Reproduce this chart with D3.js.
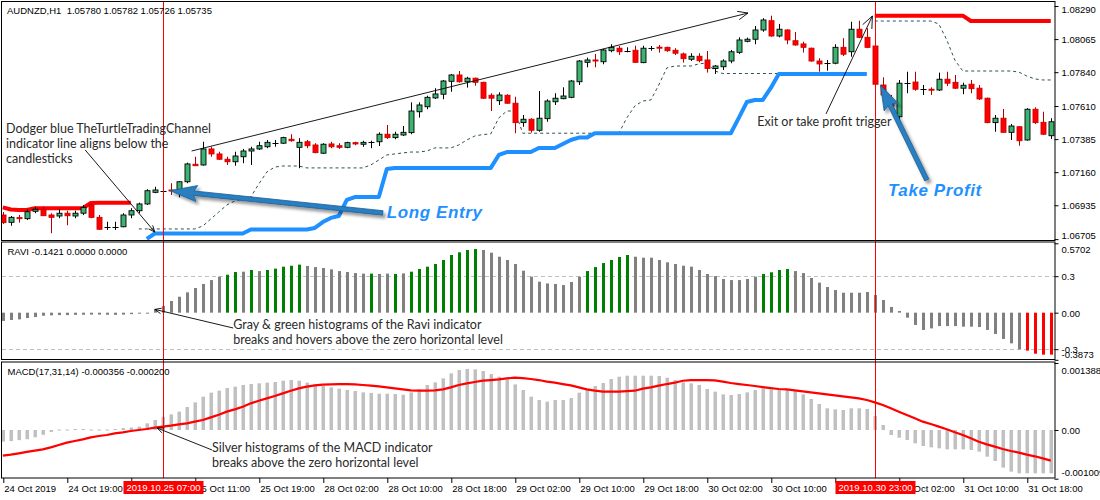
<!DOCTYPE html>
<html><head><meta charset="utf-8">
<script src="https://cdn.jsdelivr.net/npm/d3@7"></script>
<style>
body{margin:0;background:#fff}
svg{display:block}
.mt{font-family:"Liberation Sans",Arial,sans-serif;font-size:9.5px;fill:#000}
.note{font-family:Lato,"Open Sans",sans-serif;font-size:12.5px;fill:#2a2a2a}
.big{font-family:"Liberation Sans",Arial,sans-serif;font-weight:bold;font-style:italic;font-size:17px;fill:#1E90FF;letter-spacing:0.6px}
</style>
</head><body>
<svg id="c" width="1100" height="500"></svg>
<script>
// ---------------- DATA ----------------
const chartTitle = "AUDNZD,H1  1.05780 1.05782 1.05726 1.05735";
const raviTitle = "RAVI -0.1421 0.0000 0.0000";
const macdTitle = "MACD(17,31,14) -0.000356 -0.000200";

const opens = [1.06869,1.06819,1.06851,1.06844,1.06894,1.06908,1.06869,1.06862,1.06881,1.06862,
 1.06881,1.06937,1.06853,1.06789,1.06789,1.06789,1.06869,1.06898,1.06944,1.07023,
 1.07034,1.07039,1.07039,1.07095,1.07214,1.07209,1.07318,1.07284,1.07248,1.07231,
 1.07265,1.07304,1.07318,1.07333,1.07361,1.07357,1.07384,1.07329,1.07367,1.07345,
 1.07289,1.07352,1.07340,1.07329,1.07361,1.07350,1.07363,1.07367,1.07418,1.07395,
 1.07413,1.07429,1.07571,1.07605,1.07665,1.07690,1.07778,1.07821,1.07775,1.07799,
 1.07771,1.07683,1.07646,1.07683,1.07629,1.07497,1.07520,1.07445,1.07524,1.07639,
 1.07660,1.07669,1.07775,1.07907,1.07923,1.07911,1.07986,1.08003,1.07986,1.07989,
 1.07905,1.08007,1.08010,1.08009,1.07989,1.07964,1.07928,1.07948,1.07923,1.07865,
 1.07877,1.07916,1.07975,1.08050,1.08064,1.08127,1.08190,1.08086,1.08127,1.08054,
 1.08032,1.08003,1.07916,1.07901,1.07901,1.08009,1.07979,1.08132,1.08077,1.08018,
 1.07753,1.07629,1.07537,1.07769,1.07773,1.07724,1.07724,1.07719,1.07792,1.07771,
 1.07731,1.07758,1.07731,1.07663,1.07497,1.07527,1.07431,1.07469,1.07379,1.07588,
 1.07499,1.07408];
const highs = [1.06889,1.06862,1.06869,1.06908,1.06925,1.06925,1.06881,1.06908,1.06898,1.06898,
 1.06937,1.06949,1.06869,1.06823,1.06823,1.06881,1.06915,1.06953,1.07044,1.07061,
 1.07042,1.07085,1.07100,1.07225,1.07265,1.07367,1.07333,1.07299,1.07265,1.07299,
 1.07318,1.07333,1.07367,1.07379,1.07379,1.07401,1.07418,1.07391,1.07379,1.07357,
 1.07357,1.07367,1.07357,1.07367,1.07367,1.07374,1.07374,1.07431,1.07481,1.07435,
 1.07474,1.07635,1.07635,1.07680,1.07731,1.07787,1.07828,1.07848,1.07809,1.07803,
 1.07775,1.07697,1.07703,1.07690,1.07673,1.07549,1.07527,1.07712,1.07656,1.07697,
 1.07737,1.07787,1.07923,1.07939,1.07964,1.07998,1.08030,1.08018,1.08009,1.08020,
 1.08020,1.08018,1.08025,1.08013,1.08003,1.07973,1.07969,1.07969,1.07984,1.07889,
 1.07928,1.07991,1.08077,1.08075,1.08154,1.08207,1.08224,1.08168,1.08132,1.08113,
 1.08047,1.08007,1.07935,1.07923,1.08030,1.08071,1.08183,1.08190,1.08139,1.08020,
 1.07805,1.07685,1.07787,1.07843,1.07843,1.07753,1.07737,1.07837,1.07843,1.07821,
 1.07769,1.07787,1.07753,1.07667,1.07549,1.07590,1.07488,1.07474,1.07595,1.07601,
 1.07571,1.07527];
const lows = [1.06808,1.06796,1.06817,1.06835,1.06881,1.06862,1.06745,1.06847,1.06799,1.06847,
 1.06869,1.06847,1.06767,1.06767,1.06767,1.06785,1.06847,1.06881,1.06937,1.07017,
 1.07029,1.07005,1.06989,1.07085,1.07202,1.07204,1.07265,1.07243,1.07209,1.07204,
 1.07221,1.07209,1.07311,1.07323,1.07333,1.07352,1.07367,1.07187,1.07323,1.07289,
 1.07284,1.07323,1.07318,1.07323,1.07343,1.07333,1.07323,1.07338,1.07386,1.07384,
 1.07406,1.07418,1.07531,1.07588,1.07658,1.07656,1.07707,1.07769,1.07735,1.07748,
 1.07658,1.07576,1.07617,1.07624,1.07425,1.07469,1.07429,1.07435,1.07503,1.07617,
 1.07656,1.07663,1.07753,1.07873,1.07873,1.07894,1.07975,1.07957,1.07975,1.07905,
 1.07901,1.07986,1.07973,1.07979,1.07957,1.07905,1.07916,1.07907,1.07837,1.07828,
 1.07855,1.07901,1.07964,1.08043,1.08030,1.08115,1.08081,1.08077,1.08030,1.08020,
 1.07973,1.07911,1.07843,1.07850,1.07894,1.07950,1.07945,1.08071,1.08003,1.07753,
 1.07651,1.07583,1.07503,1.07697,1.07714,1.07685,1.07685,1.07712,1.07746,1.07726,
 1.07690,1.07697,1.07651,1.07493,1.07435,1.07429,1.07379,1.07340,1.07374,1.07488,
 1.07413,1.07386];
const closes = [1.06817,1.06853,1.06844,1.06891,1.06908,1.06864,1.06853,1.06881,1.06864,1.06881,
 1.06921,1.06853,1.06772,1.06789,1.06789,1.06869,1.06898,1.06944,1.07034,1.07039,
 1.07034,1.07034,1.07095,1.07216,1.07204,1.07318,1.07284,1.07248,1.07231,1.07270,
 1.07304,1.07318,1.07340,1.07363,1.07361,1.07395,1.07374,1.07363,1.07340,1.07293,
 1.07350,1.07333,1.07329,1.07361,1.07352,1.07363,1.07363,1.07418,1.07395,1.07418,
 1.07431,1.07576,1.07617,1.07669,1.07692,1.07780,1.07821,1.07775,1.07799,1.07771,
 1.07663,1.07663,1.07685,1.07629,1.07497,1.07520,1.07445,1.07527,1.07644,1.07663,
 1.07678,1.07780,1.07916,1.07923,1.07916,1.07991,1.08009,1.07979,1.07986,1.07907,
 1.08003,1.08007,1.08008,1.07986,1.07969,1.07932,1.07948,1.07918,1.07865,1.07882,
 1.07916,1.07979,1.08059,1.08064,1.08127,1.08195,1.08086,1.08132,1.08059,1.08025,
 1.08009,1.07916,1.07896,1.07901,1.08009,1.07962,1.08132,1.08077,1.08009,1.07758,
 1.07685,1.07610,1.07765,1.07769,1.07724,1.07724,1.07719,1.07792,1.07765,1.07731,
 1.07751,1.07728,1.07658,1.07497,1.07527,1.07431,1.07474,1.07374,1.07588,1.07497,
 1.07418,1.07503];

// Turtle Trading Channel buffers (first bar index + values)
const upperBandLeftStart = 0;
const upperBandLeft = [1.06921,1.06906,1.06903,1.06903,1.06915,1.06915,1.06915,1.06915,1.06915,1.06915,
 1.06915,1.06951,1.06953,1.06953,1.06953,1.06953,1.06953];
const upperBandRightStart = 109;
const upperBandRight = [1.08224,1.08224,1.08224,1.08224,1.08224,1.08224,1.08224,1.08224,1.08224,1.08224,
 1.08224,1.08224,1.08188,1.08188,1.08188,1.08188,1.08188,1.08188,1.08188,1.08188,1.08188,1.08188,1.08188];
const lowerBandStart = 18;
const lowerBand = [1.06706,1.06743,1.06743,1.06743,1.06743,1.06743,1.06743,1.06743,1.06743,1.06743,
 1.06743,1.06743,1.06743,1.06770,1.06770,1.06770,1.06770,1.06770,1.06770,1.06770,
 1.06770,1.06781,1.06821,1.06849,1.06862,1.06971,1.06991,1.06991,1.06991,1.06991,
 1.07182,1.07189,1.07189,1.07189,1.07189,1.07189,1.07189,1.07189,1.07189,1.07189,
 1.07189,1.07189,1.07189,1.07189,1.07277,1.07297,1.07297,1.07297,1.07297,1.07325,
 1.07325,1.07325,1.07352,1.07379,1.07395,1.07395,1.07425,1.07425,1.07425,1.07425,
 1.07425,1.07425,1.07425,1.07425,1.07425,1.07425,1.07425,1.07425,1.07425,1.07425,
 1.07425,1.07425,1.07425,1.07425,1.07529,1.07637,1.07651,1.07651,1.07733,1.07828,
 1.07828,1.07828,1.07828,1.07828,1.07828,1.07828,1.07828,1.07828,1.07828,1.07828,1.07828];
const exitLongStart = 17;
const exitLong = [1.06774,1.06774,1.06774,1.06774,1.06774,1.06774,1.06774,1.06774,1.06794,1.06842,
 1.06889,1.06937,1.06964,1.06978,1.06991,1.07080,1.07161,1.07195,1.07202,1.07202,
 1.07202,1.07189,1.07189,1.07189,1.07189,1.07189,1.07189,1.07189,1.07189,1.07209,
 1.07243,1.07277,1.07284,1.07291,1.07297,1.07297,1.07304,1.07325,1.07325,1.07325,
 1.07345,1.07379,1.07406,1.07416,1.07420,1.07529,1.07576,1.07576,1.07425,1.07425,
 1.07425,1.07425,1.07425,1.07425,1.07425,1.07425,1.07425,1.07425,1.07425,1.07425,
 1.07425,1.07529,1.07610,1.07644,1.07651,1.07753,1.07869,1.07882,1.07882,1.07882,
 1.07896,1.07903,1.07848,1.07831,1.07831,1.07831,1.07831,1.07831,1.07831,1.07831,
 1.07831,1.07831,1.07831,1.07831,1.07831,1.07831,1.07831,1.07831,1.07831,1.07831,
 1.07831,1.07831];
const exitShortStart = 109;
const exitShort = [1.08188,1.08188,1.08188,1.08188,1.08188,1.08188,1.08188,1.08188,1.08168,1.08059,
 1.07923,1.07848,1.07848,1.07848,1.07848,1.07848,1.07848,1.07848,1.07841,1.07814,
 1.07794,1.07787,1.07787];

const raviValues = [-0.068,-0.060,-0.055,-0.044,-0.036,-0.025,-0.022,-0.020,-0.020,-0.018,
 -0.017,-0.016,-0.016,-0.017,-0.018,-0.016,-0.012,-0.008,-0.004,0.027,
 0.055,0.096,0.131,0.167,0.203,0.236,0.268,0.296,0.312,0.334,
 0.337,0.351,0.342,0.351,0.362,0.378,0.386,0.395,0.384,0.375,
 0.367,0.356,0.342,0.334,0.326,0.321,0.321,0.318,0.321,0.318,
 0.323,0.337,0.359,0.378,0.400,0.433,0.474,0.496,0.515,0.523,
 0.515,0.493,0.460,0.433,0.400,0.345,0.296,0.255,0.240,0.236,
 0.227,0.252,0.296,0.342,0.375,0.408,0.433,0.458,0.474,0.460,
 0.452,0.452,0.433,0.414,0.400,0.386,0.378,0.351,0.318,0.301,
 0.277,0.268,0.268,0.277,0.296,0.318,0.332,0.351,0.359,0.342,
 0.326,0.285,0.247,0.211,0.186,0.164,0.164,0.164,0.170,0.145,
 0.104,0.047,0.014,-0.041,-0.101,-0.142,-0.129,-0.110,-0.110,-0.110,
 -0.115,-0.115,-0.118,-0.142,-0.175,-0.216,-0.252,-0.301,-0.312,-0.337,
 -0.345,-0.345];
const raviGreenBars = [28,29,31,33,34,35,36,37,46,49,51,52,53,54,55,56,57,58,59,73,74,75,76,77,78,95,96,97,98];
const raviRedBars = [128,129,130,131];
const raviLevels = [0.3,-0.3];

const macdHist = [-0.00024,-0.00023,-0.00021,-0.00019,-0.00015,-0.00010,-0.00004,0.00001,0.00001,0.00002,
 0.00002,0.00001,0.00001,0.00001,0.00002,0.00004,0.00005,0.00007,0.000138,0.000207,
 0.000276,0.000324,0.00038,0.000476,0.000573,0.00069,0.000773,0.000814,0.000869,0.000897,
 0.000932,0.000952,0.000966,0.00098,0.000994,0.001021,0.001035,0.001021,0.00098,0.000945,
 0.000911,0.000883,0.000856,0.000828,0.000807,0.00078,0.000766,0.000752,0.000752,0.000745,
 0.000731,0.00078,0.000842,0.000932,0.000987,0.00107,0.001173,0.001242,0.001263,0.001256,
 0.001221,0.001159,0.001104,0.001049,0.000945,0.000828,0.00069,0.000621,0.000587,0.000621,
 0.000621,0.000662,0.000773,0.000842,0.000911,0.000973,0.001056,0.001104,0.001125,0.001125,
 0.001125,0.001125,0.001118,0.001083,0.001035,0.000987,0.000966,0.000932,0.000849,0.000794,
 0.000738,0.000725,0.000745,0.00078,0.000828,0.000863,0.000842,0.000842,0.000842,0.000814,
 0.000738,0.000642,0.000538,0.000449,0.000428,0.000414,0.000449,0.000449,0.000435,0.00029,
 0.000104,-0.000104,-0.000159,-0.000207,-0.000276,-0.000331,-0.000359,-0.00038,-0.0004,-0.0004,
 -0.0004,-0.000414,-0.000449,-0.000552,-0.000642,-0.00078,-0.000863,-0.000897,-0.000897,-0.000897,
 -0.000897,-0.000897];
const macdSignal = [-0.000531,-0.000511,-0.000483,-0.000455,-0.000428,-0.0004,-0.000359,-0.00031,-0.000262,-0.000228,
 -0.000193,-0.000152,-0.000124,-0.000104,-0.000069,-0.000048,-0.000021,0,0.000021,0.000048,
 0.000069,0.00009,0.000117,0.000138,0.000173,0.000207,0.000262,0.000317,0.00038,0.000428,
 0.000483,0.000552,0.000607,0.000656,0.000704,0.000759,0.000814,0.000863,0.000897,0.000925,
 0.000938,0.000945,0.000952,0.000952,0.000945,0.000932,0.000918,0.000904,0.000883,0.000863,
 0.000842,0.000821,0.000814,0.000814,0.000821,0.000842,0.000883,0.000932,0.000966,0.000994,
 0.001021,0.001035,0.001049,0.00107,0.001083,0.001076,0.001056,0.001035,0.001001,0.00098,
 0.000952,0.000925,0.000883,0.000842,0.000814,0.000794,0.000794,0.000794,0.000807,0.000814,
 0.000856,0.000883,0.000918,0.000952,0.00098,0.001021,0.001035,0.001035,0.001035,0.001028,
 0.001001,0.000973,0.000952,0.000932,0.000911,0.00089,0.000869,0.000849,0.000842,0.000821,
 0.0008,0.00078,0.000759,0.000738,0.000718,0.000697,0.000676,0.000656,0.000621,0.000573,
 0.000518,0.000449,0.00038,0.000311,0.000242,0.000173,0.000124,0.000069,0.000014,-0.000048,
 -0.000104,-0.000173,-0.000242,-0.000297,-0.000345,-0.000393,-0.000435,-0.000469,-0.000511,-0.000545,
 -0.000587,-0.000635];

const timeLabels = ["24 Oct 2019","24 Oct 19:00","25 Oct 03:00","25 Oct 11:00","25 Oct 19:00","28 Oct 02:00",
 "28 Oct 10:00","28 Oct 18:00","29 Oct 02:00","29 Oct 10:00","29 Oct 18:00","30 Oct 02:00","30 Oct 10:00",
 "30 Oct 18:00","31 Oct 02:00","31 Oct 10:00","31 Oct 18:00"];
const timeLabelBars = [0,8,16,24,32,40,48,56,64,72,80,88,96,104,112,120,128];
const markerBars = [20,109];
const markerLabels = ["2019.10.25 07:00","2019.10.30 23:00"];
const priceTicks = [1.08290,1.08065,1.07840,1.07610,1.07385,1.07160,1.06935,1.06705];
const raviTicks = [0.5702,0.3,0,-0.3,-0.3873];
const raviTickLabels = ["0.5702","0.3","0.00","-0.3","-0.3873"];
const macdTicks = [0.001388,0,-0.001009];
const macdTickLabels = ["0.001388","0.00","-0.001009"];

// annotations, in chart units: [bar index, value]
const trendLine = [[23.6,1.07304],[93.15,1.08242]];
const exitArrow = [[102.9,1.07556],[108.7,1.08222]];
const turtleArrow = [[10.3,1.07311],[19,1.06753]];
const longEntryArrow = [[47.5,1.06883],[20.9,1.07034]];
const takeProfitArrow = [[115.5,1.07107],[109.7,1.07753]];
const raviArrow = [[28.8,-0.126],[19,0.027]];
const macdArrow = [[26.15,-0.000414],[19.3,0.00004]];
const turtleNote = {at:[0.4,1.07426], lines:["Dodger blue TheTurtleTradingChannel","indicator line aligns below the","candlesticks"]};
const exitNote = {at:[94.3,1.07474], lines:["Exit or take profit trigger"]};
const raviNote = {at:[28.8,-0.134], lines:["Gray & green histograms of the Ravi indicator","breaks and hovers above the zero horizontal level"]};
const macdNote = {at:[26.15,-0.000456], lines:["Silver histograms of the MACD indicator","breaks above the zero horizontal level"]};
const longEntryNote = {at:[48.0,1.06848], text:"Long Entry"};
const takeProfitNote = {at:[110.65,1.06998], text:"Take Profit"};

// ---------------- LAYOUT ----------------
const PL = 2, PR = 1055;
const panes = {main:[2,240.5], ravi:[242.5,359.5], macd:[362.5,478]};
const svg = d3.select("#c");
const N = opens.length;
const x = d3.scaleLinear().domain([0, N-1]).range([2.8, 2.8 + 8*(N-1)]);
const yMain = d3.scaleLinear().domain([1.06705,1.08290]).range([239.1,6]);
const yRavi = d3.scaleLinear().domain([-0.3873,0.5702]).range([359.8,243.3]);
const yMacd = d3.scaleLinear().domain([-0.001009,0.001388]).range([478.7,363]);
const px = v => Math.round(x(v)) + 0.5;

const defs = svg.append("defs");
Object.entries(panes).forEach(([k,[t,b]]) => {
  defs.append("clipPath").attr("id","clip-"+k).append("rect").attr("x",PL).attr("y",t).attr("width",PR-PL).attr("height",b-t);
});
const f = defs.append("filter").attr("id","shadow").attr("x","-30%").attr("y","-30%").attr("width","160%").attr("height","160%");
f.append("feDropShadow").attr("dx",2.5).attr("dy",3).attr("stdDeviation",1.6).attr("flood-color","#000").attr("flood-opacity",0.4);

svg.append("rect").attr("width",1100).attr("height",500).attr("fill","#fff");

const gMain = svg.append("g").attr("clip-path","url(#clip-main)");
const gRavi = svg.append("g").attr("clip-path","url(#clip-ravi)");
const gMacd = svg.append("g").attr("clip-path","url(#clip-macd)");

// ---------- RAVI ----------
raviLevels.forEach(v => {
  gRavi.append("line").attr("x1",PL).attr("x2",PR).attr("y1",Math.round(yRavi(v))+0.5).attr("y2",Math.round(yRavi(v))+0.5)
    .attr("stroke","#c0c0c0").attr("stroke-dasharray","4,3");
});
const raviColor = i => raviRedBars.includes(i) ? "#ff0000" : raviGreenBars.includes(i) ? "#008000" : "#808080";
gRavi.selectAll("rect.ravi").data(raviValues).join("rect").attr("class","ravi")
  .attr("x",(d,i)=>Math.round(x(i))-1).attr("width",3)
  .attr("y",d=>Math.min(yRavi(d),yRavi(0))).attr("height",d=>Math.max(1,Math.abs(yRavi(d)-yRavi(0))))
  .attr("fill",(d,i)=>raviColor(i));

// ---------- MACD ----------
gMacd.selectAll("rect.macd").data(macdHist).join("rect").attr("class","macd")
  .attr("x",(d,i)=>Math.round(x(i))-1.5).attr("width",3.5)
  .attr("y",d=>Math.min(yMacd(d),yMacd(0))).attr("height",d=>Math.max(1,Math.abs(yMacd(d)-yMacd(0))))
  .attr("fill","#c0c0c0");
gMacd.append("path").datum(macdSignal)
  .attr("d",d3.line().x((d,i)=>x(i)).y(d=>yMacd(d)))
  .attr("fill","none").attr("stroke","#ff0000").attr("stroke-width",2.2);

// ---------- vertical marker lines ----------
markerBars.forEach(b => {
  svg.append("line").attr("x1",px(b)).attr("x2",px(b)).attr("y1",2).attr("y2",478).attr("stroke","#ff0000").attr("stroke-width",1);
});

// ---------- main: channel lines ----------
function bandLine(g, start, vals, stroke, width, dash){
  g.append("path").datum(vals)
    .attr("d",d3.line().x((d,i)=>x(start+i)).y(d=>yMain(d)))
    .attr("fill","none").attr("stroke",stroke).attr("stroke-width",width)
    .attr("stroke-dasharray",dash||null).attr("stroke-linejoin","round");
}
bandLine(gMain, exitLongStart, exitLong, "#2f4f4f", 1, "3,3");
bandLine(gMain, exitShortStart, exitShort, "#2f4f4f", 1, "3,3");
bandLine(gMain, upperBandLeftStart, upperBandLeft, "#ff0000", 4);
bandLine(gMain, upperBandRightStart, upperBandRight, "#ff0000", 4);
bandLine(gMain, lowerBandStart, lowerBand, "#1E90FF", 4);

// ---------- candles ----------
const candles = d3.range(N).map(i => ({i, o:opens[i], h:highs[i], l:lows[i], c:closes[i]}));
const cg = gMain.selectAll("g.candle").data(candles).join("g").attr("class","candle");
cg.append("line")
  .attr("x1",d=>px(d.i)).attr("x2",d=>px(d.i))
  .attr("y1",d=>yMain(d.h)).attr("y2",d=>yMain(d.l))
  .attr("stroke",d=>d.c<d.o ? "#b00000" : "#000").attr("stroke-width",1);
cg.filter(d=>d.o!==d.c).append("rect")
  .attr("x",d=>Math.round(x(d.i))-2).attr("width",5)
  .attr("y",d=>yMain(Math.max(d.o,d.c))).attr("height",d=>Math.max(1,Math.abs(yMain(d.o)-yMain(d.c))))
  .attr("fill",d=>d.c>d.o ? "#3cb371" : "#ff0000")
  .attr("stroke",d=>d.c>d.o ? "#000" : "#d00000").attr("stroke-width",0.9);
cg.filter(d=>d.o===d.c).append("line")
  .attr("x1",d=>Math.round(x(d.i))-2.5).attr("x2",d=>Math.round(x(d.i))+3.5)
  .attr("y1",d=>Math.round(yMain(d.o))+0.5).attr("y2",d=>Math.round(yMain(d.o))+0.5)
  .attr("stroke","#000");

// ---------- annotations ----------
function thinArrow(pts, ys, head){
  const [a,b] = pts.map(p=>[x(p[0]), ys(p[1])]);
  svg.append("line").attr("x1",a[0]).attr("y1",a[1]).attr("x2",b[0]).attr("y2",b[1]).attr("stroke","#000").attr("stroke-width",0.9);
  if(head){
    const ang = Math.atan2(b[1]-a[1], b[0]-a[0]);
    const wing = s => [b[0]-head*Math.cos(ang+s), b[1]-head*Math.sin(ang+s)];
    const w1 = wing(0.4), w2 = wing(-0.4);
    svg.append("path").attr("d",`M${w1[0]},${w1[1]}L${b[0]},${b[1]}L${w2[0]},${w2[1]}`)
      .attr("fill","none").attr("stroke","#000").attr("stroke-width",0.9);
  }
}
function fatArrow(pts, ys, shaftW, headLen, headW){
  const [a,b] = pts.map(p=>[x(p[0]), ys(p[1])]);
  const dx=b[0]-a[0], dy=b[1]-a[1], L=Math.hypot(dx,dy), ux=dx/L, uy=dy/L, nx=-uy, ny=ux;
  const bx=b[0]-ux*headLen, by=b[1]-uy*headLen, s=shaftW/2;
  const P = [[a[0]+nx*s,a[1]+ny*s],[bx+nx*s,by+ny*s],[bx+nx*headW-ux*3,by+ny*headW-uy*3],b,
             [bx-nx*headW-ux*3,by-ny*headW-uy*3],[bx-nx*s,by-ny*s],[a[0]-nx*s,a[1]-ny*s]];
  svg.append("path").attr("d","M"+P.map(p=>p.join(",")).join("L")+"Z")
    .attr("fill","#2a7fc0").attr("stroke","#1b5e95").attr("stroke-width",0.8).attr("filter","url(#shadow)");
}
function note(n, ys){
  const t = svg.append("text").attr("class","note").attr("x",x(n.at[0])).attr("y",ys(n.at[1]));
  n.lines.forEach((l,k)=>t.append("tspan").attr("x",x(n.at[0])).attr("dy",k?15:0).text(l));
}
thinArrow(trendLine, yMain, 11);
thinArrow(exitArrow, yMain, 13);
thinArrow(turtleArrow, yMain, 7);
thinArrow(raviArrow, yRavi, 7);
thinArrow(macdArrow, yMacd, 7);
fatArrow(longEntryArrow, yMain, 4.5, 24, 8);
fatArrow(takeProfitArrow, yMain, 4.5, 22, 8);
note(turtleNote, yMain);
note(exitNote, yMain);
note(raviNote, yRavi);
note(macdNote, yMacd);
svg.append("text").attr("class","big").attr("x",x(longEntryNote.at[0])).attr("y",yMain(longEntryNote.at[1])).text(longEntryNote.text);
svg.append("text").attr("class","big").attr("x",x(takeProfitNote.at[0])).attr("y",yMain(takeProfitNote.at[1])).text(takeProfitNote.text);

// ---------- panel frames ----------
Object.values(panes).forEach(([t,b]) => {
  svg.append("rect").attr("x",PL-0.5).attr("y",t-0.5).attr("width",PR-PL+0.5).attr("height",b-t+0.5)
    .attr("fill","none").attr("stroke","#000").attr("stroke-width",1);
});

// ---------- titles ----------
svg.append("text").attr("class","mt").attr("x",7).attr("y",14).style("white-space","pre").text(chartTitle);
svg.append("text").attr("class","mt").attr("x",7.5).attr("y",255).text(raviTitle);
svg.append("text").attr("class","mt").attr("x",7.5).attr("y",375).text(macdTitle);

// ---------- right axes ----------
function rightAxis(scale, vals, fmt, top, bottom){
  const g = svg.append("g").attr("transform",`translate(${PR-0.5},0)`)
    .call(d3.axisRight(scale).tickValues(vals).tickFormat(fmt).tickSize(4).tickPadding(3).tickSizeOuter(0));
  g.select(".domain").remove();
  g.selectAll("line").attr("stroke","#000");
  g.selectAll("text").attr("class","mt").attr("font-size",null).attr("font-family",null)
    .attr("dy",null).attr("dominant-baseline",null)
    .attr("y",d=>{ const y=scale(d); const yc=Math.min(Math.max(y,top+7),bottom-6); return yc-y+3.5; });
}
rightAxis(yMain, priceTicks, d3.format(".5f"), 2, 241);
rightAxis(yRavi, raviTicks, (d,i)=>raviTickLabels[i], 242.5, 359.5);
rightAxis(yMacd, macdTicks, (d,i)=>macdTickLabels[i], 362.5, 478);

// ---------- bottom time axis ----------
const gx = svg.append("g").attr("transform","translate(0,478)")
  .call(d3.axisBottom(x).tickValues(timeLabelBars).tickFormat((d,i)=>timeLabels[i]).tickSize(5).tickPadding(3).tickSizeOuter(0));
gx.select(".domain").remove();
gx.selectAll(".tick line").attr("stroke","#000").attr("transform","translate(0.5,0)");
gx.selectAll("text").attr("class","mt").attr("font-size",null).attr("font-family",null)
  .attr("text-anchor","start").attr("x",1).attr("dy",null).attr("y",14);

// marker time boxes
markerBars.forEach((b,k) => {
  const cx = px(b);
  svg.append("rect").attr("x",cx-40).attr("y",481).attr("width",80).attr("height",13).attr("fill","#ff0000");
  svg.append("text").attr("class","mt").attr("x",cx).attr("y",491).attr("text-anchor","middle").style("fill","#fff").text(markerLabels[k]);
});
</script>
</body></html>
